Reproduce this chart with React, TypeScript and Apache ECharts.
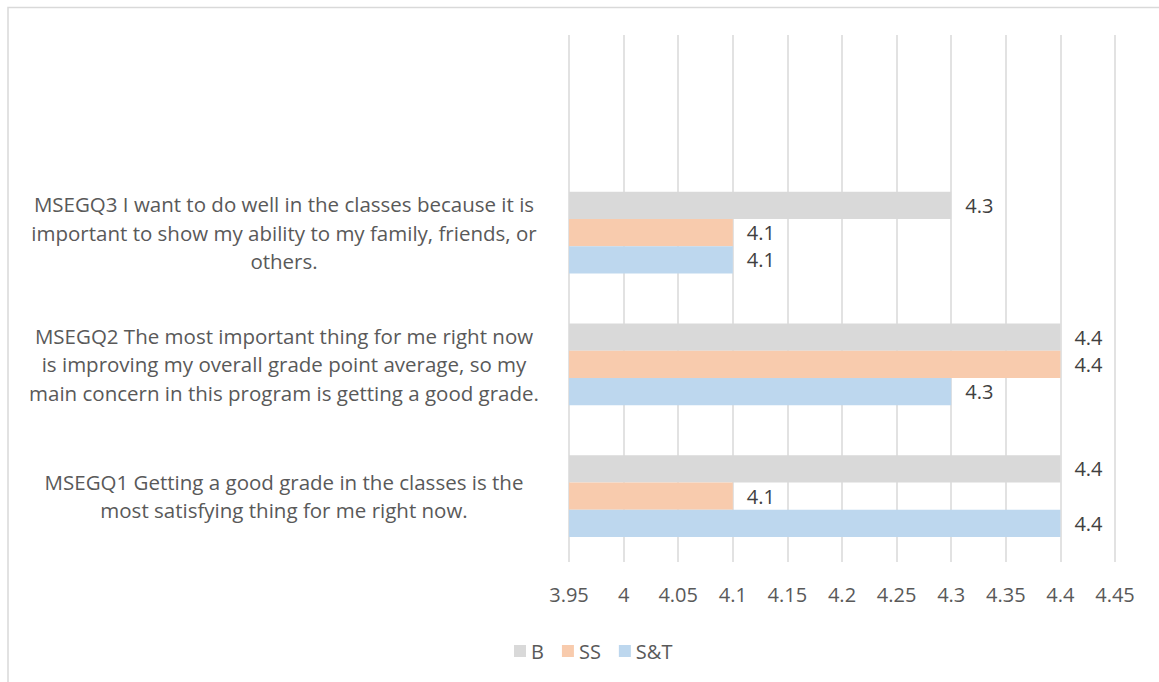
import React, { useEffect, useRef } from "react";
import * as echarts from "echarts";

const categories: string[] = [
  "MSEGQ1 Getting a good grade in the classes is the\nmost satisfying thing for me right now.",
  "MSEGQ2 The most important thing for me right now\nis improving my overall grade point average, so my\nmain concern in this program is getting a good grade.",
  "MSEGQ3 I want to do well in the classes because it is\nimportant to show my ability to my family, friends, or\nothers.",
  "",
];
const seriesNames: string[] = ["B", "SS", "S&T"];
const valuesB: (number | string)[] = [4.4, 4.4, 4.3, "-"];
const valuesSS: (number | string)[] = [4.1, 4.4, 4.1, "-"];
const valuesST: (number | string)[] = [4.4, 4.3, 4.1, "-"];
const axisMin = 3.95;
const axisMax = 4.45;
const axisInterval = 0.05;

const FONT = "Open Sans";

export default function App() {
  const ref = useRef<HTMLDivElement>(null);
  useEffect(() => {
    if (!ref.current) return;
    const chart = echarts.init(ref.current, null, { renderer: "svg" });
    const label = {
      show: true,
      position: "right" as const,
      distance: 14,
      color: "#404040",
      fontSize: 20,
      fontFamily: FONT,
    };
    const mk = (name: string, data: (number | string)[], color: string) => ({
      name,
      type: "bar" as const,
      data,
      itemStyle: { color },
      label,
      barGap: "0%",
      barCategoryGap: "38%",
    });
    chart.setOption({
      animation: false,
      backgroundColor: "#ffffff",
      textStyle: { fontFamily: FONT },
      graphic: [
        {
          type: "rect",
          shape: { x: 8, y: 7.5, width: 1170, height: 700 },
          style: { fill: "none", stroke: "#d9d9d9", lineWidth: 1.5 },
          silent: true,
        },
      ],
      grid: { left: 569, right: 44, top: 35, bottom: 120, containLabel: false },
      legend: {
        data: seriesNames,
        left: 509,
        top: 636,
        itemWidth: 12,
        itemHeight: 12,
        itemGap: 18,
        icon: "rect",
        textStyle: { color: "#595959", fontSize: 20, fontFamily: FONT },
      },
      xAxis: {
        type: "value",
        min: axisMin,
        max: axisMax,
        interval: axisInterval,
        axisLine: { show: false },
        axisTick: { show: false },
        splitLine: { show: true, lineStyle: { color: "#d9d9d9", width: 1.5 } },
        axisLabel: {
          color: "#595959",
          fontSize: 20,
          fontFamily: FONT,
          margin: 22,
          formatter: (v: number) => String(Math.round(v * 100) / 100),
        },
      },
      yAxis: {
        type: "category",
        data: categories,
        axisLine: { show: false },
        axisTick: { show: false },
        splitLine: { show: false },
        axisLabel: {
          color: "#595959",
          fontSize: 20.5,
          fontFamily: FONT,
          lineHeight: 28.5,
          align: "center",
          margin: 285,
          interval: 0,
        },
      },
      series: [
        mk("B", valuesB, "#d9d9d9"),
        mk("SS", valuesSS, "#f8cbad"),
        mk("S&T", valuesST, "#bdd7ee"),
      ],
    });
    return () => chart.dispose();
  }, []);
  return (
    <div
      ref={ref}
      style={{ position: "fixed", left: 0, top: 0, width: 1159, height: 682 }}
    />
  );
}
